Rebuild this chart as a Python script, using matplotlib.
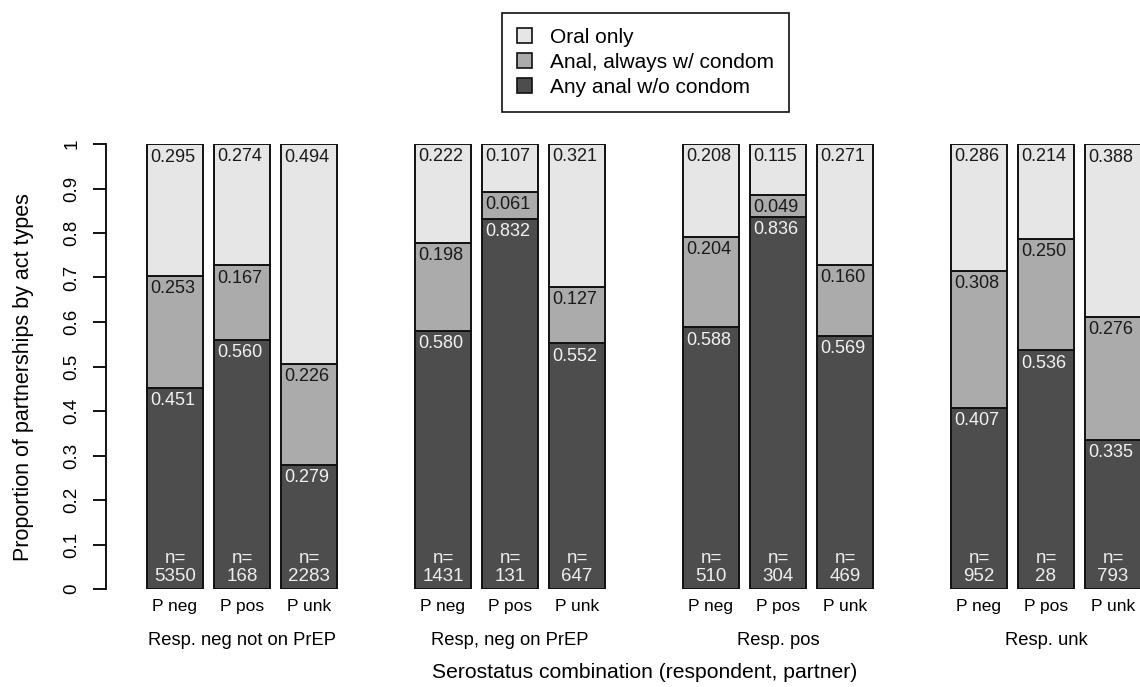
import numpy as np
import matplotlib.pyplot as plt
from matplotlib.patches import Patch

plt.rcParams['font.family'] = ['Liberation Sans', 'DejaVu Sans']
plt.rcParams['ytick.labelsize'] = 13.5
plt.rcParams['xtick.labelsize'] = 12.5

# proportions per partnership type, three bars per respondent group
groups = ["Resp. neg not on PrEP", "Resp, neg on PrEP", "Resp. pos", "Resp. unk"]
partners = ["P neg", "P pos", "P unk"]
no_condom = [0.451, 0.560, 0.279, 0.580, 0.832, 0.552, 0.588, 0.836, 0.569, 0.407, 0.536, 0.335]
always_condom = [0.253, 0.167, 0.226, 0.198, 0.061, 0.127, 0.204, 0.049, 0.160, 0.308, 0.250, 0.276]
oral_only = [0.295, 0.274, 0.494, 0.222, 0.107, 0.321, 0.208, 0.115, 0.271, 0.286, 0.214, 0.388]
n_obs = [5350, 168, 2283, 1431, 131, 647, 510, 304, 469, 952, 28, 793]
yticks = ["0", "0.1", "0.2", "0.3", "0.4", "0.5", "0.6", "0.7", "0.8", "0.9", "1"]

series = [
    ("Any anal w/o condom", no_condom, "#4d4d4d", "#f2f2f2"),
    ("Anal, always w/ condom", always_condom, "#ababab", "#1a1a1a"),
    ("Oral only", oral_only, "#e6e6e6", "#1a1a1a"),
]

x = np.array([g * 4 + i for g in range(len(groups)) for i in range(len(partners))], dtype=float)
width = 0.84

fig = plt.figure(figsize=(11.4, 6.87), dpi=100)
ax = fig.add_axes([0.0, (687 - 589) / 687, 1.0, 445 / 687])

bottom = np.zeros(len(x))
for name, vals, col, tcol in series:
    vals = np.array(vals)
    ax.bar(x, vals, width, bottom=bottom, color=col, edgecolor="#111111",
           linewidth=1.4, label=name)
    for xi, b, v in zip(x, bottom, vals):
        ax.annotate(f"{v:.3f}", (xi - width / 2, b + v), xytext=(2.5, -3),
                    textcoords="offset points", ha="left", va="top",
                    fontsize=13, color=tcol)
    bottom += vals

for xi, n in zip(x, n_obs):
    ax.annotate(f"n=\n{n}", (xi, 0), xytext=(0, 3), textcoords="offset points",
                ha="center", va="bottom", fontsize=13.5, color="#eeeeee",
                linespacing=1.1)

ax.set_xlim(-175 / 67, 965 / 67)
ax.set_ylim(0, 1)
for s in ["top", "right", "bottom"]:
    ax.spines[s].set_visible(False)
ax.spines["left"].set_position(("data", -1.03))
ax.spines["left"].set_bounds(0, 1)
ax.spines["left"].set_linewidth(1.3)
ax.set_yticks(np.arange(0, 1.01, 0.1), yticks, rotation=90, va="center")
ax.tick_params(axis="y", length=9.5, width=1.3, pad=9, labelsize=13.5)

ax.set_xticks(x, partners * len(groups))
ax.tick_params(axis="x", length=0, pad=7)

# group captions centred under each middle bar
for g, gname in enumerate(groups):
    ax.text(x[g * 3 + 1], -0.115, gname, ha="center", va="center", fontsize=13.2,
            transform=ax.get_xaxis_transform(), clip_on=False)

fig.text(645 / 1140, 1 - 673 / 687, "Serostatus combination (respondent, partner)",
         ha="center", va="center", fontsize=15.2)
fig.text(24 / 1140, 1 - 377 / 687, "Proportion of partnerships by act types",
         ha="center", va="center", rotation=90, fontsize=15.5)

handles = [Patch(facecolor=c, edgecolor="#111111", linewidth=1.2) for _, _, c, _ in series[::-1]]
labels = [nm for nm, _, _, _ in series[::-1]]
fig.legend(handles, labels, loc="upper left", bbox_to_anchor=(502 / 1140, 1 - 13 / 687),
           fontsize=15, frameon=True, fancybox=False, edgecolor="#111111",
           handlelength=0.72, handleheight=0.72, handletextpad=0.85, labelspacing=0.28,
           borderpad=0.72, borderaxespad=0, framealpha=1)
fig.legends[0].get_frame().set_linewidth(1.2)

fig.savefig("out.png", dpi=100)
